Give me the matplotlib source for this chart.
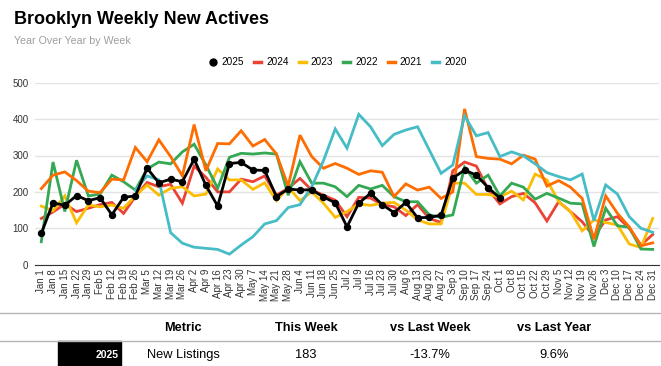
import numpy as np
import matplotlib
matplotlib.use('agg')
from matplotlib import pyplot as plt
from matplotlib.lines import Line2D
from matplotlib.patches import Rectangle

plt.rcParams['font.family'] = ['Liberation Sans', 'DejaVu Sans']

W, H = 661, 366

weeks = ["Jan 1", "Jan 8", "Jan 15", "Jan 22", "Jan 29", "Feb 5", "Feb 12", "Feb 19",
         "Feb 26", "Mar 5", "Mar 12", "Mar 19", "Mar 26", "Apr 2", "Apr 9", "Apr 16",
         "Apr 23", "Apr 30", "May 7", "May 14", "May 21", "May 28", "Jun 4", "Jun 11",
         "Jun 18", "Jun 25", "Jul 2", "Jul 9", "Jul 16", "Jul 23", "Jul 30", "Aug 6",
         "Aug 13", "Aug 20", "Aug 27", "Sep 3", "Sep 10", "Sep 17", "Sep 24", "Oct 1",
         "Oct 8", "Oct 15", "Oct 22", "Oct 29", "Nov 5", "Nov 12", "Nov 19", "Nov 26",
         "Dec 3", "Dec 10", "Dec 17", "Dec 24", "Dec 31"]

y2025 = [86, 170, 163, 190, 176, 184, 137, 185, 189, 265, 225, 235, 228, 290, 218, 161,
         278, 281, 260, 259, 187, 208, 205, 206, 186, 170, 104, 169, 196, 165, 143, 171,
         129, 130, 136, 238, 260, 246, 212, 183]
y2024 = [127, 145, 166, 146, 155, 165, 171, 141, 187, 226, 214, 221, 169, 271, 240, 200,
         200, 235, 228, 244, 191, 210, 237, 205, 191, 177, 132, 185, 183, 165, 159, 135,
         165, 127, 116, 258, 282, 271, 207, 167, 187, 196, 170, 120, 173, 146, 118, 77,
         123, 132, 100, 54, 83]
y2023 = [161, 148, 189, 115, 164, 159, 164, 155, 189, 219, 191, 210, 214, 189, 194, 263,
         233, 233, 207, 225, 176, 213, 176, 200, 169, 130, 146, 167, 163, 169, 171, 150,
         123, 112, 112, 224, 224, 193, 193, 186, 202, 178, 249, 233, 173, 146, 93, 123,
         116, 109, 57, 47, 127]
y2022 = [63, 282, 146, 287, 189, 194, 246, 228, 205, 263, 282, 277, 310, 331, 274, 210,
         295, 306, 304, 307, 304, 191, 283, 224, 224, 214, 187, 218, 208, 218, 187, 173,
         173, 137, 130, 137, 268, 224, 246, 189, 224, 213, 180, 196, 183, 169, 167, 50,
         155, 107, 103, 43, 42]
y2021 = [209, 246, 255, 231, 202, 198, 235, 233, 322, 283, 343, 297, 244, 385, 258, 333,
         332, 368, 326, 344, 304, 216, 356, 297, 265, 278, 265, 248, 258, 254, 187, 222,
         205, 213, 182, 200, 428, 297, 292, 290, 277, 301, 290, 216, 231, 213, 182, 70,
         189, 141, 104, 52, 60]
y2020 = [None] * 8 + [205, 244, 233, 88, 59, 48, 45, 42, 29, 54, 77, 112, 121, 157, 165,
         214, 286, 373, 320, 413, 379, 327, 358, 370, 379, 315, 251, 274, 409, 354, 363,
         297, 310, 299, 277, 253, 242, 233, 249, 121, 219, 194, 132, 100, 89]

series = [("2024", y2024, "#EA4335"), ("2023", y2023, "#FBBC04"),
          ("2022", y2022, "#34A853"), ("2021", y2021, "#FF6D01"),
          ("2020", y2020, "#46BDC6")]

table_head = ["Metric", "This Week", "vs Last Week", "vs Last Year"]
table_row = ["New Listings", "183", "-13.7%", "9.6%"]


def fx(x):
    return x / W


def fy(y):
    return 1 - y / H


fig = plt.figure(figsize=(W / 100, H / 100), dpi=100)
ax = fig.add_axes([fx(35.4), fy(264.7), fx(623.2), 182 / H])

x = np.arange(len(weeks))
for name, vals, color in series:
    v = np.array([np.nan if a is None else a for a in vals], dtype=float)
    ax.plot(x[:len(v)], v, color=color, lw=2, solid_joinstyle='miter')
ax.plot(x[:len(y2025)], y2025, color='black', lw=2, marker='o', ms=4.3, zorder=5)

ax.set_xlim(-0.5, len(weeks) - 0.5)
ax.set_ylim(0, 500)
ax.set_yticks([0, 100, 200, 300, 400, 500])
ax.set_xticks(x)
ax.set_xticklabels(weeks, rotation=90, fontsize=7, color='#333333')
ax.tick_params(axis='y', labelsize=7, colors='#333333', length=0, pad=5)
ax.tick_params(axis='x', length=0, pad=3)
ax.grid(axis='y', color='#e3e3e3', lw=1)
ax.set_axisbelow(True)
for s in ['top', 'right', 'left']:
    ax.spines[s].set_visible(False)
ax.spines['bottom'].set_color('#333333')
ax.spines['bottom'].set_zorder(6)

fig.text(fx(14), fy(19), "Brooklyn Weekly New Actives", fontsize=13,
         fontweight='bold', va='center', ha='left')
fig.text(fx(14), fy(41), "Year Over Year by Week", fontsize=7.7,
         color='#9e9e9e', va='center', ha='left')

handles = [Line2D([], [], color='black', marker='o', ls='none', ms=5)]
handles += [Line2D([], [], color=c, lw=2.5) for _, _, c in series]
labels = ["2025"] + [n for n, _, _ in series]
fig.legend(handles, labels, loc='center', bbox_to_anchor=(fx(338), fy(62)),
           ncol=6, frameon=False, fontsize=7.2, handlelength=0.7,
           handletextpad=0.5, columnspacing=1.0)

# summary table under the chart
for yy in (313, 341):
    fig.add_artist(Line2D([0, 1], [fy(yy), fy(yy)], color='#b5b5b5', lw=1))
cols = [183, 306, 430, 554]
for cx, t in zip(cols, table_head):
    fig.text(fx(cx), fy(328), t, fontsize=9.2, fontweight='bold', ha='center', va='center')
for cx, t in zip(cols, table_row):
    fig.text(fx(cx), fy(355), t, fontsize=9.3, ha='center', va='center')
fig.add_artist(Rectangle((fx(58), 0), fx(63), fy(341), color='black',
                         transform=fig.transFigure))
fig.text(fx(119), fy(355), "2025", fontsize=7.5, fontweight='bold', color='white',
         ha='right', va='center')

fig.savefig('out.png', dpi=100)
